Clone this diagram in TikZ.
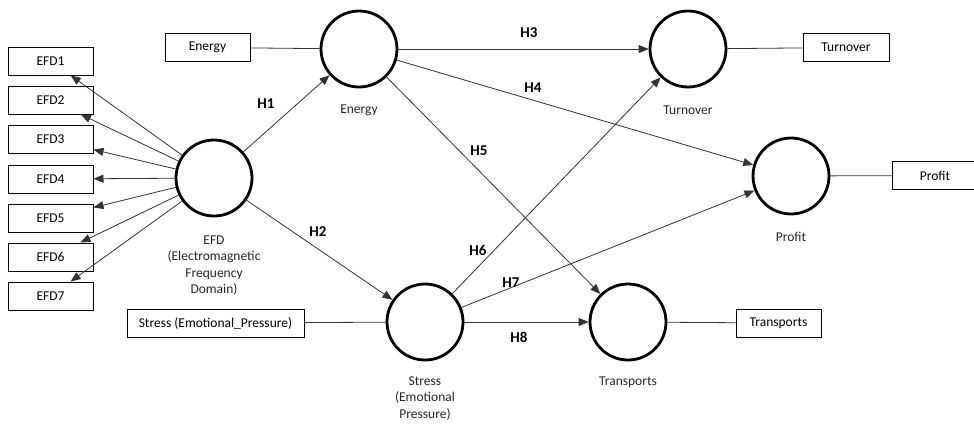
\documentclass[tikz,border=0pt]{standalone}
\usepackage{fontspec}
\setmainfont{Carlito}
\usetikzlibrary{arrows.meta}
\tikzset{
  lv/.style={circle, draw=black, line width=2.8pt, minimum size=76pt, inner sep=0pt},
  ind/.style={rectangle, draw=black, line width=1pt, minimum height=28pt, inner sep=2pt, font=\fontsize{13.5}{14}\selectfont},
  lbl/.style={align=center, font=\fontsize{13.5}{16.5}\selectfont, text=black!85},
  hyp/.style={font=\bfseries\fontsize{15}{16}\selectfont},
  path/.style={draw=black!80, line width=0.8pt, -{Triangle[length=10pt,width=8pt]}},
  link/.style={draw=black!80, line width=0.8pt},
}
\begin{document}
\begin{tikzpicture}[x=1pt,y=-1pt]
\useasboundingbox (0,0) rectangle (974,426);
% latent variables
\node[lv] (energy) at (359,49) {};
\node[lv] (turn) at (688,49) {};
\node[lv] (profit) at (791,176) {};
\node[lv] (efd) at (214,178) {};
\node[lv] (stress) at (425,322) {};
\node[lv] (trans) at (628,322) {};
% labels under circles
\node[lbl] (energyL) at (359,110) {Energy};
\node[lbl] (turnL) at (688,110) {Turnover};
\node[lbl] (profitL) at (791,237) {Profit};
\node[lbl, anchor=north] (efdL) at (214,232) {EFD\\(Electromagnetic\\Frequency\\Domain)};
\node[lbl, anchor=north] (stressL) at (425,373) {Stress\\(Emotional\\Pressure)};
\node[lbl] (transL) at (628,382) {Transports};
% indicator boxes
\foreach \i/\y in {1/61,2/100,3/139.5,4/179,5/218,6/257,7/296}{
  \node[ind, minimum width=85pt] (efd\i) at (50.5,\y) {EFD\i};
  \draw[path] (efd) -- (efd\i);
}
\node[ind, minimum width=85pt] (energyB) at (207.5,47.5) {Energy};
\node[ind, minimum width=86pt] (turnB) at (846,47.5) {Turnover};
\node[ind, minimum width=86pt] (profitB) at (935,175.5) {Profit};
\node[ind, minimum width=177pt] (stressB) at (215.5,323) {Stress (Emotional\_Pressure)};
\node[ind, minimum width=85pt] (transB) at (778.5,323) {Transports};
% links to indicators
\draw[link] (energyB) -- (energy);
\draw[link] (turn) -- (turnB);
\draw[link] (profit) -- (profitB);
\draw[link] (stressB) -- (stress);
\draw[link] (trans) -- (transB);
% structural paths
\draw[path] (efd) -- (energy);
\draw[path] (efd) -- (stress);
\draw[path] (energy) -- (turn);
\draw[path] (energy) -- (profit);
\draw[path] (energy) -- (trans);
\draw[path] (stress) -- (turn);
\draw[path] (stress) -- (profit);
\draw[path] (stress) -- (trans);
% hypothesis labels
\node[hyp] (h1) at (266,104) {H1};
\node[hyp] (h2) at (318,232) {H2};
\node[hyp] (h3) at (529,33) {H3};
\node[hyp] (h4) at (533,88) {H4};
\node[hyp] (h5) at (479,151) {H5};
\node[hyp] (h6) at (478,250) {H6};
\node[hyp] (h7) at (511,283) {H7};
\node[hyp] (h8) at (519,337) {H8};
\end{tikzpicture}
\end{document}
